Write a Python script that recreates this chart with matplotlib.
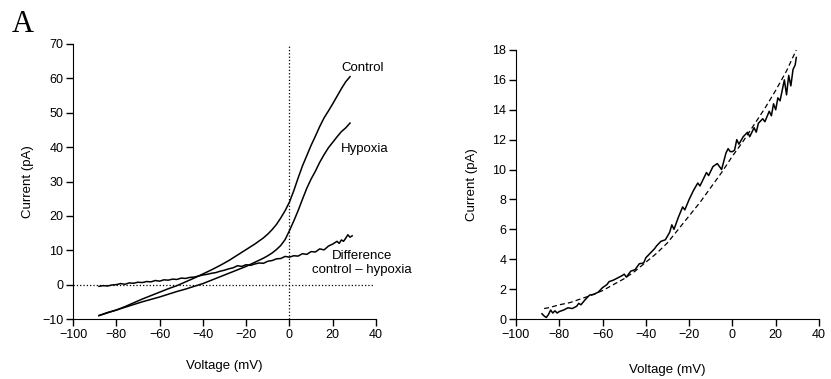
import numpy as np
import matplotlib.pyplot as plt

plt.rcParams['font.family'] = ['Liberation Sans', 'DejaVu Sans']

# --- left panel: I-V curves ---
v_ctrl = [-88, -84, -80, -76, -72, -68, -64, -60, -56, -52, -48, -44, -40, -36,
          -32, -28, -24, -20, -16, -12, -10, -8, -6, -4, -2, 0, 2, 4, 6, 8, 10,
          12, 14, 16, 18, 20, 22, 24, 26, 28]
i_ctrl = [-9.0, -8.2, -7.4, -6.4, -5.3, -4.2, -3.2, -2.2, -1.2, -0.3, 0.8, 1.9,
          3.1, 4.3, 5.6, 7.0, 8.6, 10.2, 11.8, 13.6, 14.7, 16.0, 17.5, 19.4,
          21.5, 24.0, 27.3, 31.0, 34.5, 37.5, 40.5, 43.2, 46.0, 48.5, 50.5,
          52.6, 54.8, 57.0, 59.0, 60.5]

v_hyp = [-88, -84, -80, -76, -72, -68, -64, -60, -56, -52, -48, -44, -40, -36,
         -32, -28, -24, -20, -16, -12, -10, -8, -6, -4, -2, 0, 2, 4, 6, 8, 10,
         12, 14, 16, 18, 20, 22, 24, 26, 28]
i_hyp = [-9.0, -8.1, -7.4, -6.6, -5.8, -5.0, -4.3, -3.6, -2.8, -2.0, -1.3, -0.5,
         0.3, 1.3, 2.3, 3.3, 4.3, 5.3, 6.5, 7.7, 8.4, 9.2, 10.2, 11.4, 13.1,
         15.7, 18.5, 21.5, 24.8, 28.0, 30.7, 33.0, 35.6, 37.8, 39.8, 41.4,
         43.0, 44.5, 45.6, 47.0]

v_diff = [-88, -86, -84, -82, -80, -78, -76, -74, -72, -70, -68, -66, -64, -62,
          -60, -58, -56, -54, -52, -50, -48, -46, -44, -42, -40, -38, -36, -34,
          -32, -30, -28, -26, -24, -22, -20, -18, -16, -14, -12, -10, -8, -6,
          -4, -2, 0, 2, 4, 6, 8, 10, 12, 14, 16, 18, 20, 22, 23, 24, 25, 26,
          27, 28, 29]
i_diff = [-0.5, -0.3, -0.4, -0.1, 0.0, 0.3, 0.1, 0.5, 0.4, 0.7, 0.6, 0.9, 0.8,
          1.2, 1.0, 1.4, 1.3, 1.6, 1.5, 1.9, 1.8, 2.1, 2.2, 2.5, 2.8, 3.0, 3.3,
          3.5, 3.9, 4.2, 4.6, 4.9, 5.5, 5.3, 5.8, 5.6, 6.0, 6.3, 6.2, 6.8, 7.0,
          7.5, 7.6, 8.2, 8.0, 8.4, 8.3, 9.0, 8.8, 9.6, 9.5, 10.4, 10.1, 11.2,
          11.8, 12.6, 12.0, 13.0, 12.6, 13.5, 14.5, 13.8, 14.2]

# --- right panel: difference current and fit ---
v_d2 = [-88, -87, -86, -85, -84, -83, -82, -81, -80, -78, -76, -74, -72, -71,
        -70, -68, -66, -64, -62, -60, -58, -57, -55, -53, -51, -50, -49, -47,
        -45, -43, -41, -40, -38, -36, -35, -33, -31, -29, -28, -27, -25, -23,
        -22, -20, -18, -16, -15, -13, -12, -11, -9, -7, -6, -5, -3, -2, -1, 0,
        1, 2, 3, 5, 7, 8, 10, 11, 12, 14, 15, 17, 18, 19, 20, 21, 22, 23, 24,
        25, 26, 27, 28, 29, 29.5]
i_d2 = [0.35, 0.2, 0.1, 0.3, 0.6, 0.4, 0.55, 0.4, 0.5, 0.6, 0.75, 0.7, 0.85,
        1.05, 0.95, 1.3, 1.6, 1.65, 1.8, 2.1, 2.3, 2.5, 2.6, 2.75, 2.9, 3.0,
        2.8, 3.2, 3.3, 3.7, 3.75, 4.1, 4.4, 4.7, 4.9, 5.2, 5.3, 5.8, 6.3, 6.0,
        6.8, 7.5, 7.3, 8.0, 8.6, 9.1, 8.9, 9.5, 9.8, 9.6, 10.2, 10.4, 10.2,
        10.0, 11.1, 11.4, 11.2, 11.2, 11.3, 12.0, 11.7, 12.2, 12.5, 12.2, 12.8,
        12.5, 13.1, 13.4, 13.2, 13.9, 13.6, 14.4, 14.0, 14.8, 14.6, 15.3, 16.0,
        15.0, 16.3, 15.6, 16.7, 17.0, 17.5]

v_fit = [-87, -85, -80, -75, -70, -65, -60, -55, -50, -45, -40, -35, -30, -25,
         -20, -15, -10, -5, 0, 5, 10, 15, 20, 25, 29.5]
i_fit = [0.7, 0.75, 0.95, 1.1, 1.35, 1.6, 1.9, 2.3, 2.7, 3.2, 3.8, 4.4, 5.1,
         6.0, 6.9, 7.8, 8.8, 9.8, 10.9, 11.9, 13.0, 14.1, 15.3, 16.6, 18.0]

fig = plt.figure(figsize=(8.31, 3.79), dpi=100)
ax1 = fig.add_axes([73/831, 1-319/379, 303/831, 275/379])
ax2 = fig.add_axes([516/831, 1-319/379, 303/831, 269/379])

for ax in (ax1, ax2):
    ax.spines['top'].set_visible(False)
    ax.spines['right'].set_visible(False)
    ax.tick_params(direction='out', length=5, width=1, labelsize=9, pad=2)
    ax.set_xlim(-100, 40)
    ax.set_xticks(np.arange(-100, 41, 20))

ax1.set_xlabel('Voltage (mV)', fontsize=9.5, labelpad=14)
ax1.set_ylabel('Current (pA)', fontsize=9.5, labelpad=6)
ax2.set_xlabel('Voltage (mV)', fontsize=9.5, labelpad=17)
ax2.set_ylabel('Current (pA)', fontsize=9.5, labelpad=10)

ax1.axvline(0, color='k', ls=':', lw=0.9)
ax1.plot([-100, 39], [0, 0], color='k', ls=':', lw=0.9)
ax1.plot(v_ctrl, i_ctrl, color='k', lw=1.1)
ax1.plot(v_hyp, i_hyp, color='k', lw=1.1)
ax1.plot(v_diff, i_diff, color='k', lw=1.1)
ax1.set_ylim(-10, 70)
ax1.set_yticks(np.arange(-10, 71, 10))
ax1.text(24, 63, 'Control', fontsize=9.5, va='center')
ax1.text(24, 39.5, 'Hypoxia', fontsize=9.5, va='center')
ax1.text(33.5, 8.3, 'Difference', fontsize=9.5, va='center', ha='center')
ax1.text(33.5, 4.4, 'control \u2013 hypoxia', fontsize=9.5, va='center', ha='center')

ax2.plot(v_d2, i_d2, color='k', lw=1.1)
ax2.plot(v_fit, i_fit, color='k', lw=0.9, ls=(0, (4, 2.5)))
ax2.set_ylim(0, 18)
ax2.set_yticks(np.arange(0, 19, 2))

fig.text(12/831, 1-32/379, 'A', family='Liberation Serif', fontsize=22)

fig.savefig('out.png', dpi=100)
